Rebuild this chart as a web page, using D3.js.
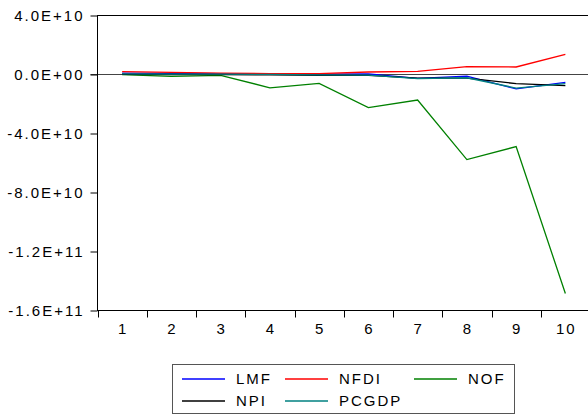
<!DOCTYPE html>
<html>
<head>
<meta charset="utf-8">
<script src="https://cdn.jsdelivr.net/npm/d3@7"></script>
<style>
  body { margin: 0; background: #fff; }
  svg text { font-family: "Liberation Sans", Arial, sans-serif; font-size: 15px; letter-spacing: 2px; fill: #000; }
</style>
</head>
<body>
<svg id="chart"></svg>
<script>
// Periods and series (values in units)
const periods = [1, 2, 3, 4, 5, 6, 7, 8, 9, 10];
const LMF   = [1.0e9, 0.7e9, 0.5e9, 0.3e9, 0.2e9, 0.4e9, -2.6e9, -1.1e9, -9.8e9, -5.4e9];
const NFDI  = [2.0e9, 1.4e9, 1.0e9, 0.6e9, 0.6e9, 1.7e9, 2.1e9, 5.3e9, 5.1e9, 13.6e9];
const NOF   = [-0.1e9, -1.3e9, -0.6e9, -9.0e9, -6.0e9, -22.5e9, -17.3e9, -57.7e9, -48.9e9, -148.5e9];
const NPI   = [0.1e9, 0.0, -0.1e9, -0.3e9, -0.5e9, -0.6e9, -2.5e9, -2.5e9, -6.2e9, -7.6e9];
const PCGDP = [0.4e9, 0.3e9, 0.2e9, 0.1e9, -0.2e9, -0.4e9, -2.8e9, -2.2e9, -9.2e9, -6.2e9];

const seriesNames  = ["LMF", "NFDI", "NOF", "NPI", "PCGDP"];
const seriesValues = [LMF, NFDI, NOF, NPI, PCGDP];
const seriesColors = ["#0000ff", "#ff0000", "#008000", "#000000", "#008080"];

const yTicks      = [4e10, 0, -4e10, -8e10, -1.2e11, -1.6e11];
const yTickLabels = ["4.0E+10", "0.0E+00", "-4.0E+10", "-8.0E+10", "-1.2E+11", "-1.6E+11"];

const width = 588, height = 419;
const margin = { top: 15.5, right: -2, bottom: 108.5, left: 97.5 };

const svg = d3.select("#chart")
              .attr("width", width)
              .attr("height", height);

// Scales
const xScale = d3.scaleBand()
                 .domain(periods)
                 .range([margin.left, width - margin.right])
                 .padding(0);

const yScale = d3.scaleLinear()
                 .domain([-1.6e11, 4e10])
                 .range([height - margin.bottom, margin.top]);

const x0 = margin.left, x1 = width - margin.right;
const yTop = yScale(4e10), yBot = yScale(-1.6e11);

// Zero line
svg.append("line")
   .attr("x1", x0 - 7).attr("x2", x1)
   .attr("y1", Math.round(yScale(0)) + 0.5).attr("y2", Math.round(yScale(0)) + 0.5)
   .attr("stroke", "#444").attr("stroke-width", 1);

// Frame
svg.append("rect")
   .attr("x", x0).attr("y", yTop)
   .attr("width", x1 - x0).attr("height", yBot - yTop)
   .attr("fill", "none").attr("stroke", "#000").attr("stroke-width", 1);

// Y axis
const yAxis = svg.append("g")
   .attr("transform", `translate(${x0}, 0)`)
   .call(d3.axisLeft(yScale)
           .tickValues(yTicks)
           .tickFormat((d, i) => yTickLabels[i])
           .tickSize(7)
           .tickPadding(6));
yAxis.select(".domain").remove();
yAxis.selectAll("line").attr("stroke", "#000");
yAxis.selectAll("text")
     .attr("dy", "0.33em")
     .style("font-size", "15px")
     .style("font-family", "Liberation Sans, Arial, sans-serif");

// X axis: labels at band centres, ticks at band edges
const xAxis = svg.append("g")
   .attr("transform", `translate(0, ${yBot})`)
   .call(d3.axisBottom(xScale).tickSize(0).tickPadding(13));
xAxis.select(".domain").remove();
xAxis.selectAll("text")
     .attr("dx", "1px")
     .style("font-size", "15px")
     .style("font-family", "Liberation Sans, Arial, sans-serif");

svg.append("g")
   .selectAll("line")
   .data(periods)
   .join("line")
   .attr("x1", d => Math.round(xScale(d)) + 0.5)
   .attr("x2", d => Math.round(xScale(d)) + 0.5)
   .attr("y1", yBot)
   .attr("y2", yBot + 7)
   .attr("stroke", "#000");

// Series lines
const line = d3.line()
               .x((d, i) => xScale(periods[i]) + xScale.bandwidth() / 2)
               .y(d => yScale(d));

seriesValues.forEach((vals, k) => {
    svg.append("path")
       .datum(vals)
       .attr("d", line)
       .attr("fill", "none")
       .attr("stroke", seriesColors[k])
       .attr("stroke-width", 1.3);
});

// Legend
const legendBox = { x: 172.5, y: 364.5, w: 342, h: 49 };
svg.append("rect")
   .attr("x", legendBox.x).attr("y", legendBox.y)
   .attr("width", legendBox.w).attr("height", legendBox.h)
   .attr("fill", "#fff").attr("stroke", "#555").attr("stroke-width", 1);

const legendCols = [182, 285, 414];
const legendRows = [379, 401];
seriesNames.forEach((name, k) => {
    const col = k % 3, row = Math.floor(k / 3);
    const lx = legendCols[col], ly = legendRows[row];
    svg.append("line")
       .attr("x1", lx).attr("x2", lx + 43)
       .attr("y1", ly).attr("y2", ly)
       .attr("stroke", seriesColors[k]).attr("stroke-width", 1.3);
    svg.append("text")
       .attr("x", lx + 54)
       .attr("y", ly + 5)
       .text(name);
});
</script>
</body>
</html>
